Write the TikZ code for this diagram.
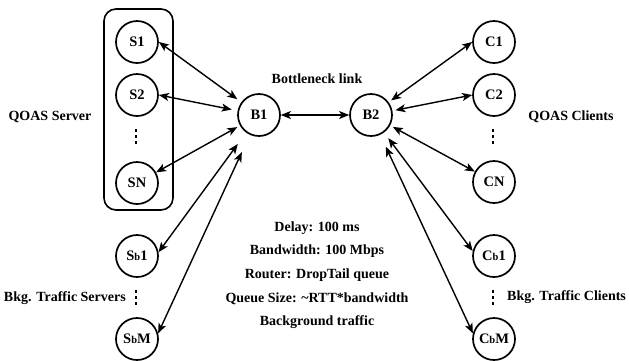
\documentclass[tikz,border=0pt]{standalone}
\usepackage{fontspec}
\setmainfont{Liberation Serif}
\usetikzlibrary{arrows.meta}

% three stacked square dots
\newcommand{\dotcol}{\vbox{\offinterlineskip\hbox{\rule{2.8pt}{3pt}}\vskip3pt\hbox{\rule{2.8pt}{3pt}}\vskip3pt\hbox{\rule{2.8pt}{3pt}}}}
% small "b" used in background node names
\newcommand{\bsmall}{{\fontsize{10.5}{10.5}\selectfont b}}

\begin{document}
\begin{tikzpicture}[x=1pt,y=-1pt,
  host/.style={circle,draw,line width=1.7pt,minimum size=42pt,inner sep=0pt,
               font=\fontsize{14.5}{14.5}\selectfont\bfseries},
  link/.style={line width=1.4pt,
               {Stealth[length=10pt,width=8pt,inset=2.5pt]}-{Stealth[length=10pt,width=8pt,inset=2.5pt]}},
  lbl/.style={inner sep=0pt,font=\fontsize{14}{14}\selectfont\bfseries},
  vd/.style={inner sep=0pt}]
\useasboundingbox (0,0) rectangle (629,360);

% server group frame
\node[draw,line width=1.6pt,rounded corners=12pt,minimum width=69pt,minimum height=201pt]
  (srvbox) at (138.5,109.5) {};

% left column
\node[host] (S1) at (137,42) {S1};
\node[host] (S2) at (137,95) {S2};
\node[vd] (sdots) at (136,136) {\dotcol};
\node[host] (SN) at (137,183) {SN};
\node[host] (Sb1) at (137,256) {S\bsmall1};
\node[vd] (sbdots) at (136,297) {\dotcol};
\node[host] (SbM) at (137,339) {S\bsmall M};

% routers
\node[host] (B1) at (259,115) {B1};
\node[host] (B2) at (371,115) {B2};

% right column
\node[host] (C1) at (494,42) {C1};
\node[host] (C2) at (494,95) {C2};
\node[vd] (cdots) at (493,136) {\dotcol};
\node[host] (CN) at (494,182) {CN};
\node[host] (Cb1) at (494,256) {C\bsmall1};
\node[vd] (cbdots) at (493,297) {\dotcol};
\node[host] (CbM) at (494,339) {C\bsmall M};

% labels
\node[lbl] (bl) at (317,79) {Bottleneck link};
\node[lbl] (qs) at (50,117) {QOAS Server};
\node[lbl] (qc) at (571,117) {QOAS Clients};
\node[lbl,anchor=east] (bs) at (126,298) {Bkg. Traffic Servers};
\node[lbl,anchor=west] (bc) at (507,297) {Bkg. Traffic Clients};

% link parameters
\node[lbl] (p1) at (317,228) {Delay: 100 ms};
\node[lbl] (p2) at (317,251.5) {Bandwidth: 100 Mbps};
\node[lbl] (p3) at (317,275) {Router: DropTail queue};
\node[lbl] (p4) at (317,298.5) {Queue Size: \textasciitilde RTT*bandwidth};
\node[lbl] (p5) at (317,322) {Background traffic};

% connections
\draw[link,shorten >=5pt] (S1.east) -- (B1);
\draw[link,shorten >=6pt] (S2.east) -- (B1);
\draw[link,shorten >=3pt] (SN) -- (B1);
\draw[link,shorten >=14pt] (Sb1.10) -- (B1);
\draw[link,shorten >=19pt] (SbM.15) -- (B1);

\draw[link] (B1) -- (B2);

\draw[link,shorten <=3pt] (B2) -- (C1.west);
\draw[link,shorten <=3pt] (B2) -- (C2.west);
\draw[link,shorten <=3pt] (B2) -- (CN);
\draw[link,shorten <=7pt] (B2) -- (Cb1.167);
\draw[link,shorten <=13pt] (B2) -- (CbM.165);
\end{tikzpicture}
\end{document}
